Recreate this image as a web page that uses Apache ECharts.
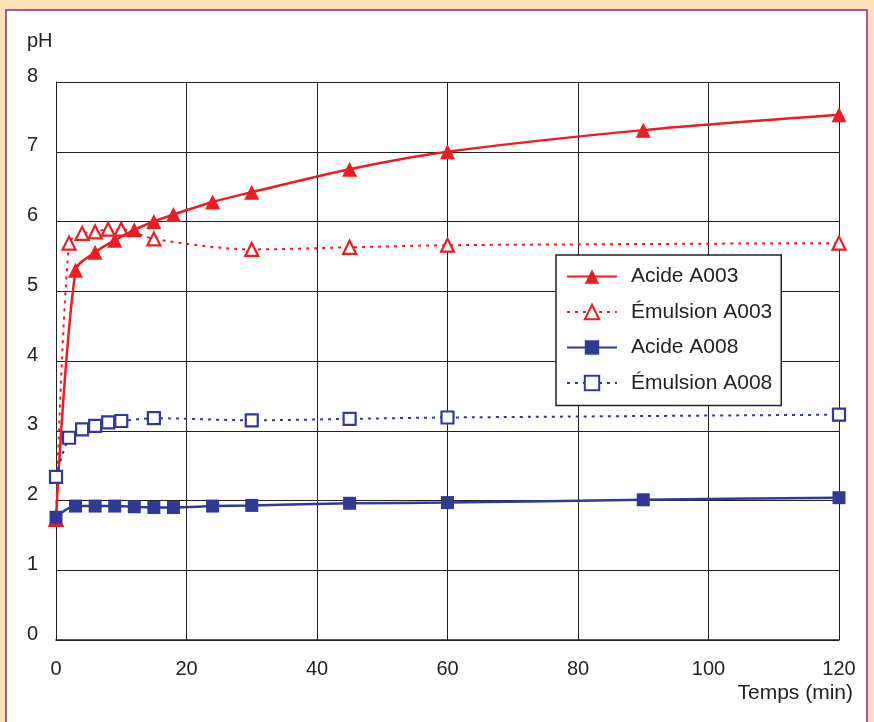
<!DOCTYPE html>
<html>
<head>
<meta charset="utf-8">
<script src="https://cdn.jsdelivr.net/npm/echarts@6/dist/echarts.min.js"></script>
<style>
html,body{margin:0;padding:0;background:#FFE0B8;}
#c{width:874px;height:722px;}
</style>
</head>
<body>
<div id="c"></div>
<script>
var seriesNames = ['Acide A003', 'Émulsion A003', 'Acide A008', 'Émulsion A008'];
var xTicks = [0, 20, 40, 60, 80, 100, 120];
var yTicks = [0, 1, 2, 3, 4, 5, 6, 7, 8];
var tAcid = [0, 3, 6, 9, 12, 15, 18, 24, 30, 45, 60, 90, 120];
var acidA003 = [1.73, 5.30, 5.56, 5.73, 5.88, 6.00, 6.10, 6.28, 6.42, 6.75, 7.00, 7.31, 7.53];
var acidA008 = [1.76, 1.92, 1.92, 1.92, 1.91, 1.90, 1.90, 1.92, 1.93, 1.96, 1.97, 2.01, 2.04];
var tEmul = [0, 2, 4, 6, 8, 10, 15, 30, 45, 60, 120];
var emulA003 = [1.73, 5.69, 5.83, 5.85, 5.89, 5.89, 5.75, 5.60, 5.63, 5.66, 5.69];
var emulA008 = [2.34, 2.90, 3.02, 3.07, 3.12, 3.14, 3.18, 3.15, 3.17, 3.19, 3.23];

function pairs(t, v) { return t.map(function (x, i) { return [x, v[i]]; }); }

var RED = '#EC1C24', BLUE = '#2E3A96';
var FONT = '"Liberation Sans", Arial, Helvetica, sans-serif';

var chart = echarts.init(document.getElementById('c'), null, {renderer: 'canvas'});
chart.setOption({
  animation: false,
  backgroundColor: '#FFE0B8',
  textStyle: {fontFamily: FONT},
  graphic: [
    {type: 'rect', z: -10, shape: {x: 6, y: 10, width: 861, height: 730},
     style: {fill: '#ffffff', stroke: '#7A2E8E', lineWidth: 1.5}},
    {type: 'text', left: 27, top: 31, style: {text: 'pH', font: '20px ' + FONT, fill: '#222'}},
    {type: 'text', right: 21, top: 683, style: {text: 'Temps (min)', font: '21px ' + FONT, fill: '#222'}}
  ],
  grid: {left: 56, right: 35, top: 82, bottom: 82, show: false},
  xAxis: {
    type: 'value', min: xTicks[0], max: xTicks[xTicks.length - 1], interval: 20,
    axisLine: {show: true, lineStyle: {color: '#222', width: 1.5}},
    axisTick: {show: false},
    splitLine: {show: true, lineStyle: {color: '#222', width: 1}},
    axisLabel: {color: '#222', fontSize: 20, margin: 19, fontFamily: FONT}
  },
  yAxis: {
    type: 'value', min: yTicks[0], max: yTicks[yTicks.length - 1], interval: 1,
    axisLine: {show: true, lineStyle: {color: '#222', width: 1}},
    axisTick: {show: false},
    splitLine: {show: true, lineStyle: {color: '#222', width: 1}},
    axisLabel: {color: '#222', fontSize: 20, margin: 18, verticalAlign: 'bottom', lineHeight: 12, fontFamily: FONT}
  },
  legend: {
    orient: 'vertical', left: 556, top: 255,
    data: seriesNames,
    backgroundColor: '#fff', borderColor: '#222', borderWidth: 1.5, borderRadius: 0,
    padding: [11, 9, 12, 10], itemGap: 14.5, itemWidth: 50, itemHeight: 18,
    textStyle: {fontSize: 21, color: '#222', fontFamily: FONT, padding: [0, 0, 0, 9]}
  },
  series: [
    {name: seriesNames[1], type: 'line', z: 2, smooth: 0.3, data: pairs(tEmul, emulA003),
     symbol: 'triangle', symbolSize: 13,
     lineStyle: {color: RED, width: 2, type: [3, 5]},
     itemStyle: {color: '#fff', borderColor: RED, borderWidth: 2.2}},
    {name: seriesNames[0], type: 'line', z: 3, smooth: 0.3, data: pairs(tAcid, acidA003),
     symbol: 'triangle', symbolSize: 15,
     lineStyle: {color: RED, width: 2.5},
     itemStyle: {color: RED, borderColor: RED, borderWidth: 0}},
    {name: seriesNames[3], type: 'line', z: 4, smooth: 0.3, data: pairs(tEmul, emulA008),
     symbol: 'rect', symbolSize: 12,
     lineStyle: {color: BLUE, width: 2, type: [3, 5]},
     itemStyle: {color: '#fff', borderColor: BLUE, borderWidth: 2.2}},
    {name: seriesNames[2], type: 'line', z: 5, smooth: 0.3, data: pairs(tAcid, acidA008),
     symbol: 'rect', symbolSize: 13,
     lineStyle: {color: BLUE, width: 2.5},
     itemStyle: {color: BLUE, borderColor: BLUE, borderWidth: 0}}
  ]
});
</script>
</body>
</html>
